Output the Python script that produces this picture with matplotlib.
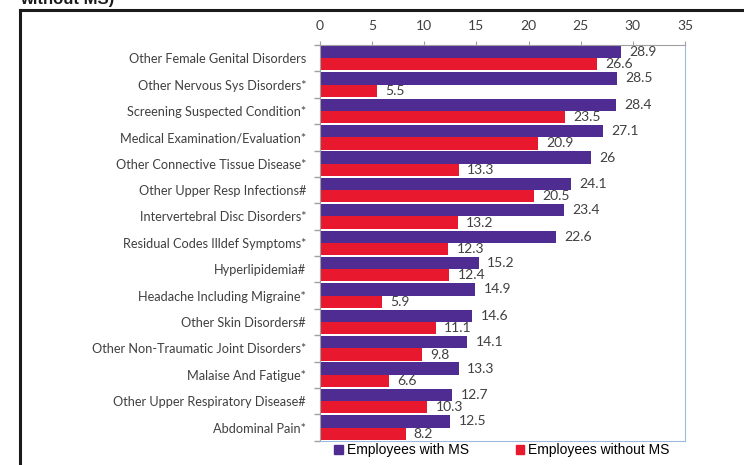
import matplotlib.pyplot as plt
import numpy as np
from matplotlib.lines import Line2D
from matplotlib.patches import Patch

# data
categories = ['Other Female Genital Disorders', 'Other Nervous Sys Disorders*',
              'Screening Suspected Condition*', 'Medical Examination/Evaluation*',
              'Other Connective Tissue Disease*', 'Other Upper Resp Infections#',
              'Intervertebral Disc Disorders*', 'Residual Codes Illdef Symptoms*',
              'Hyperlipidemia#', 'Headache Including Migraine*', 'Other Skin Disorders#',
              'Other Non-Traumatic Joint Disorders*', 'Malaise And Fatigue*',
              'Other Upper Respiratory Disease#', 'Abdominal Pain*']
with_ms = [28.9, 28.5, 28.4, 27.1, 26, 24.1, 23.4, 22.6, 15.2, 14.9, 14.6, 14.1, 13.3, 12.7, 12.5]
without_ms = [26.6, 5.5, 23.5, 20.9, 13.3, 20.5, 13.2, 12.3, 12.4, 5.9, 11.1, 9.8, 6.6, 10.3, 8.2]
series_names = ['Employees with MS', 'Employees without MS']

purple = '#4F2C91'
red = '#E8192F'
txt = '#404040'
W, H = 744, 465

fig = plt.figure(figsize=(7.44, 4.65), dpi=100)
ax = fig.add_axes([320 / W, 1 - 440.7 / H, 365 / W, 395.7 / H])

y = np.arange(len(categories))
h = 0.465
b1 = ax.barh(y - h / 2, with_ms, height=h, color=purple)
b2 = ax.barh(y + h / 2, without_ms, height=h, color=red)

# value labels
for bars, vals in ((b1, with_ms), (b2, without_ms)):
    for bar, v in zip(bars, vals):
        ax.annotate(f'{v:g}', (bar.get_width(), bar.get_y() + bar.get_height() / 2),
                    xytext=(6, 0), textcoords='offset points', va='center', ha='left',
                    fontsize=10, color=txt, family='Lato')

ax.set_xlim(0, 35)
ax.set_ylim(len(categories) - 0.5, -0.5)
ax.xaxis.tick_top()
ax.set_xticks(range(0, 36, 5))
ax.set_yticks(y)
ax.set_yticks(np.arange(-0.5, len(categories), 1), minor=True)
ax.set_yticklabels(categories, family='Lato', fontsize=9.2, color=txt)
ax.tick_params(axis='y', which='major', length=0, pad=10)
ax.tick_params(axis='y', which='minor', length=4, color='#A0A0A0', width=1)
ax.tick_params(axis='x', length=3, color='#A0A0A0', labelsize=10, labelcolor=txt, pad=6)
for lab in ax.get_xticklabels():
    lab.set_family('Lato')

ax.spines['left'].set_color('#A0A0A0')
ax.spines['top'].set_color('#A0A0A0')
ax.spines['right'].set_color('#9DB9E0')
ax.spines['bottom'].set_color('#9DB9E0')

handles = [Patch(color=purple), Patch(color=red)]
fig.legend(handles, series_names, loc='center', bbox_to_anchor=(502 / W, 1 - 450 / H),
           ncol=2, frameon=False, handlelength=0.6, handleheight=0.6, handletextpad=0.3,
           columnspacing=3.4, prop={'family': 'Liberation Sans', 'size': 10})

# outer frame and cut-off title
fig.add_artist(Line2D([20 / W, 20 / W], [0, 1 - 10 / H], color='#1A1A1A', lw=2.2))
fig.add_artist(Line2D([20 / W, 1], [1 - 10 / H, 1 - 10 / H], color='#1A1A1A', lw=2.2))
fig.text(20 / W, 1 - 4 / H, 'without MS)', fontsize=12, fontweight='bold',
         family='Liberation Sans', va='baseline', ha='left', color='#1A1A1A')

fig.savefig('out.png', dpi=100)
